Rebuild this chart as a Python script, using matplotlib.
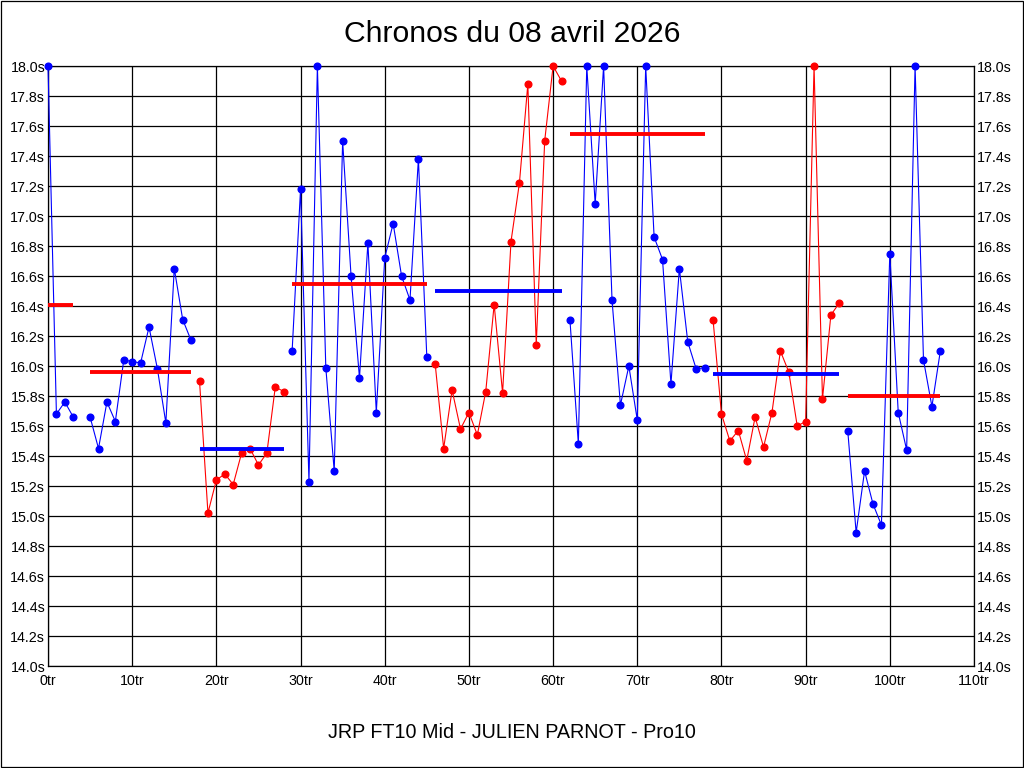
import numpy as np
import matplotlib
matplotlib.use("Agg")
import matplotlib.pyplot as plt

plt.rcParams['font.family'] = ['Liberation Sans', 'DejaVu Sans']

##==============================================================================

# Data (lap number -> lap time in seconds, None = no lap)

times = [
    18.00, 15.68, 15.76, 15.66, None, 15.66, 15.45, 15.76, 15.63, 16.04,   # 0-9
    16.03, 16.02, 16.26, 15.98, 15.62, 16.65, 16.31, 16.17, 15.90, 15.02,  # 10-19
    15.24, 15.28, 15.21, 15.42, 15.45, 15.34, 15.42, 15.86, 15.83, 16.10,  # 20-29
    17.18, 15.23, 18.00, 15.99, 15.30, 17.50, 16.60, 15.92, 16.82, 15.69,  # 30-39
    16.72, 16.95, 16.60, 16.44, 17.38, 16.06, 16.01, 15.45, 15.84, 15.58,  # 40-49
    15.69, 15.54, 15.83, 16.41, 15.82, 16.83, 17.22, 17.88, 16.14, 17.50,  # 50-59
    18.00, 17.90, 16.31, 15.48, 18.00, 17.08, 18.00, 16.44, 15.74, 16.00,  # 60-69
    15.64, 18.00, 16.86, 16.71, 15.88, 16.65, 16.16, 15.98, 15.99, 16.31,  # 70-79
    15.68, 15.50, 15.57, 15.37, 15.66, 15.46, 15.69, 16.10, 15.96, 15.60,  # 80-89
    15.63, 18.00, 15.78, 16.34, 16.42, 15.57, 14.89, 15.30, 15.08, 14.94,  # 90-99
    16.75, 15.69, 15.44, 18.00, 16.04, 15.73, 16.10,                       # 100-106
]

# runs of laps: first lap, last lap, colour of the points
seg_start = [0, 5, 18, 29, 46, 62, 79, 95]
seg_end = [3, 17, 28, 45, 61, 78, 94, 106]
seg_color = ['blue', 'blue', 'red', 'blue', 'red', 'blue', 'red', 'blue']

# average time of each run (drawn in the other colour)
seg_avg = [16.41, 15.96, 15.45, 16.55, 16.50, 17.55, 15.95, 15.80]

title = 'Chronos du 08 avril 2026'
subtitle = 'JRP FT10 Mid - JULIEN PARNOT - Pro10'

##==============================================================================

# plotting

t = np.array([np.nan if v is None else v for v in times])
laps = np.arange(len(t))
other = {'blue': 'red', 'red': 'blue'}

fig = plt.figure(figsize=(10.24, 7.68), dpi=100)
ax = fig.add_axes([48/1024, 102/768, 926/1024, 600/768])

for s, e, c, avg in zip(seg_start, seg_end, seg_color, seg_avg):
    x = laps[s:e+1]
    y = np.clip(t[s:e+1], 14.0, 18.0)
    ax.plot(x, y, c=c, lw=0.8, marker='o', ms=4.8, mec=c, mfc=c,
            clip_on=False, zorder=3)
    ax.plot([s, e], [avg, avg], c=other[c], lw=2.8, solid_capstyle='butt',
            zorder=4)

ax.set_xlim(0, 110)
ax.set_ylim(14.0, 18.0)
xt = np.arange(0, 111, 10)
yt = np.round(np.arange(14.0, 18.01, 0.2), 1)
ax.set_xticks(xt)
ax.set_xticklabels([f'{v}tr' for v in xt])
ax.set_yticks(yt)
ax.set_yticklabels([f'{v:.1f}s' for v in yt])
ax.tick_params(axis='both', length=0, labelsize=10.3, pad=2,
               labelright=True, right=True)
ax.tick_params(axis='x', pad=6)
ax.grid(True, color='black', lw=0.9)
for sp in ax.spines.values():
    sp.set_linewidth(0.9)

fig.text(0.5, 1 - 34/768, title, ha='center', va='center', fontsize=21.7)
fig.text(0.5, 1 - 733/768, subtitle, ha='center', va='center', fontsize=14.2)

# outer frame
fig.patches.append(plt.Rectangle((0.0005, 0.0007), 0.999, 0.9986,
                                 transform=fig.transFigure, fill=False,
                                 ec='black', lw=0.9))

fig.savefig('out.png', dpi=100)
